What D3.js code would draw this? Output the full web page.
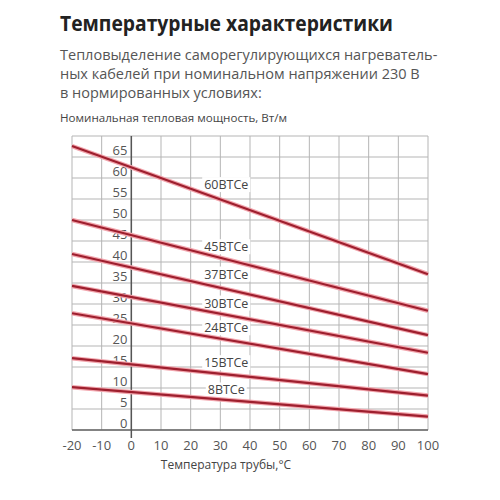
<!DOCTYPE html>
<html>
<head>
    <meta charset="utf-8">
    <title>Температурные характеристики</title>
    <script src="https://d3js.org/d3.v7.min.js"></script>
    <style>
        body { margin: 0; background: #fff; }
        svg { font-family: "Open Sans", "Noto Sans", sans-serif; }
    </style>
</head>
<body>
    <div id="chart"></div>

    <script>
        // temperature of the pipe at both ends of each line
        var temps = [-20, 100];
        var cables = ["60BTCe", "45BTCe", "37BTCe", "30BTCe", "24BTCe", "15BTCe", "8BTCe"];
        var powerAtMinus20 = [67.6, 50, 41.9, 34.3, 27.8, 17.1, 10.2];
        var powerAt100 = [37.1, 28.4, 22.6, 18.4, 13.3, 8.2, 3.2];
        // where the cable name sits (temperature, power)
        var labelTemp = [32, 32, 32, 32, 32, 32, 32];
        var labelPower = [58.4, 43.6, 37.1, 30.2, 24.3, 16.0, 9.5];

        var xTicks = [-20, -10, 0, 10, 20, 30, 40, 50, 60, 70, 80, 90, 100];
        var yTicks = [0, 5, 10, 15, 20, 25, 30, 35, 40, 45, 50, 55, 60, 65];

        var title = "Температурные характеристики";
        var subtitle = [
            "Тепловыделение саморегулирующихся нагреватель-",
            "ных кабелей при номинальном напряжении 230 В",
            "в нормированных условиях:"
        ];
        var yTitle = "Номинальная тепловая мощность, Вт/м";
        var xTitle = "Температура трубы,°C";

        var svg = d3.select("#chart").append("svg")
            .attr("width", 500).attr("height", 500);

        var x = d3.scaleLinear().domain([-20, 100]).range([72, 428]);
        var y = d3.scaleLinear().domain([0, 70]).range([430, 136]);

        // headings
        svg.append("text")
            .attr("x", 60).attr("y", 31)
            .attr("font-size", 21).attr("font-weight", "bold")
            .attr("fill", "#222")
            .attr("textLength", 333).attr("lengthAdjust", "spacingAndGlyphs")
            .text(title);

        svg.selectAll(".sub")
            .data(subtitle)
            .enter().append("text")
            .attr("class", "sub")
            .attr("x", 60)
            .attr("y", function(d, i) { return 60 + i * 19; })
            .attr("font-size", 14.5)
            .attr("fill", "#555")
            .text(function(d) { return d; });

        svg.append("text")
            .attr("x", 60).attr("y", 122)
            .attr("font-size", 11)
            .attr("fill", "#444")
            .attr("textLength", 227).attr("lengthAdjust", "spacingAndGlyphs")
            .text(yTitle);

        // grid
        svg.append("g")
            .selectAll("line")
            .data(yTicks.concat([70]))
            .enter().append("line")
            .attr("x1", x(-20)).attr("x2", x(100))
            .attr("y1", function(d) { return y(d); })
            .attr("y2", function(d) { return y(d); })
            .attr("stroke", "#b5b5b5").attr("stroke-width", 1);

        svg.append("g")
            .selectAll("line")
            .data(xTicks)
            .enter().append("line")
            .attr("x1", function(d) { return x(d); })
            .attr("x2", function(d) { return x(d); })
            .attr("y1", y(70)).attr("y2", y(0))
            .attr("stroke", "#b5b5b5").attr("stroke-width", 1);

        // bottom axis and the zero line
        svg.append("line")
            .attr("x1", x(-20)).attr("x2", x(100))
            .attr("y1", y(0)).attr("y2", y(0))
            .attr("stroke", "#666").attr("stroke-width", 1.5);
        svg.append("line")
            .attr("x1", x(0)).attr("x2", x(0))
            .attr("y1", y(70)).attr("y2", y(0) + 8)
            .attr("stroke", "#555").attr("stroke-width", 1.5);

        // tick labels
        svg.append("g")
            .selectAll("text")
            .data(yTicks)
            .enter().append("text")
            .attr("x", x(0) - 4)
            .attr("y", function(d) { return y(d) - 2; })
            .attr("text-anchor", "end")
            .attr("font-size", 13)
            .attr("fill", "#555")
            .text(function(d) { return d; });

        svg.append("g")
            .selectAll("text")
            .data(xTicks)
            .enter().append("text")
            .attr("x", function(d) { return x(d); })
            .attr("y", 450)
            .attr("text-anchor", "middle")
            .attr("font-size", 13)
            .attr("fill", "#555")
            .text(function(d) { return d; });

        svg.append("text")
            .attr("x", 226).attr("y", 469)
            .attr("text-anchor", "middle")
            .attr("font-size", 12)
            .attr("fill", "#444")
            .text(xTitle);

        // cable names: white boxes hide the grid, lines go over the boxes
        var boxes = svg.append("g");
        var series = cables.map(function(c, i) {
            return { name: c, values: [powerAtMinus20[i], powerAt100[i]] };
        });
        var line = d3.line()
            .x(function(d, i) { return x(temps[i]); })
            .y(function(d) { return y(d); });

        var lines = svg.append("g");
        lines.selectAll(".glow")
            .data(series)
            .enter().append("path")
            .attr("d", function(d) { return line(d.values); })
            .attr("fill", "none")
            .attr("stroke", "#f2a5ad")
            .attr("stroke-width", 4.5);
        lines.selectAll(".cable")
            .data(series)
            .enter().append("path")
            .attr("d", function(d) { return line(d.values); })
            .attr("fill", "none")
            .attr("stroke", "#9e1f2e")
            .attr("stroke-width", 2.2);

        var labels = svg.append("g").selectAll("text")
            .data(cables)
            .enter().append("text")
            .attr("x", function(d, i) { return x(labelTemp[i]); })
            .attr("y", function(d, i) { return y(labelPower[i]); })
            .attr("text-anchor", "middle")
            .attr("dy", "0.35em")
            .attr("font-size", 12.5)
            .attr("fill", "#444")
            .text(function(d) { return d; });

        labels.each(function() {
            var b = this.getBBox();
            boxes.append("rect")
                .attr("x", b.x - 2).attr("y", b.y + 1)
                .attr("width", b.width + 4).attr("height", b.height - 2)
                .attr("fill", "#fff");
        });
    </script>
</body>
</html>
